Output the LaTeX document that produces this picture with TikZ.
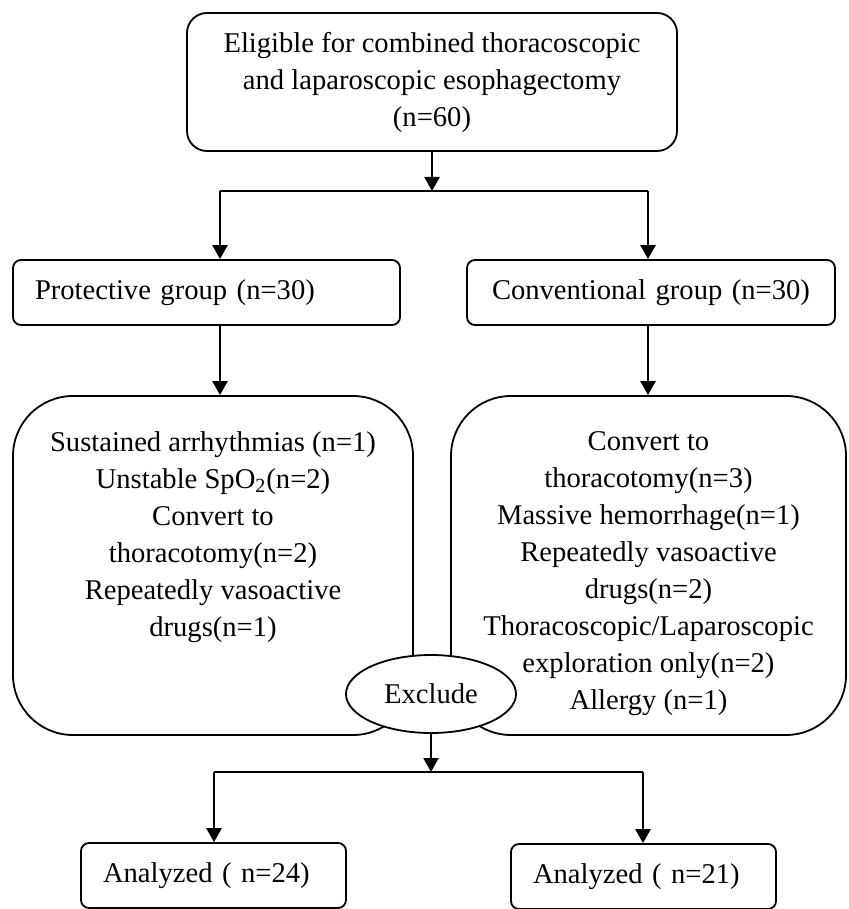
\documentclass[tikz,border=0pt]{standalone}
\usepackage{fontspec}
\setmainfont{Liberation Serif}
\usetikzlibrary{arrows.meta,positioning,shapes.geometric}

\begin{document}
\begin{tikzpicture}[x=0.5pt,y=-0.5pt,
    font=\fontsize{14.3pt}{18.5pt}\selectfont,
    box/.style={draw,line width=0.9pt,rounded corners=4pt,inner sep=0pt,minimum height=32.5pt},
    bigbox/.style={draw,line width=0.9pt,rounded corners=30pt,minimum width=#1,minimum height=169.5pt},
    lines/.style={align=center,inner sep=0pt},
    link/.style={line width=1.3pt},
    arrow/.style={link,-{Triangle[width=7.5pt,length=7pt]}}]
    \useasboundingbox (0,0) rectangle (848,909);
    \node[box,rounded corners=10pt,minimum width=245pt,minimum height=69pt,align=center] (elig) at (432,82)
        {Eligible for combined thoracoscopic\\and laparoscopic esophagectomy\\(n=60)};
    \node[box,text width=171.5pt,inner xsep=11pt,align=left] (prot) at (206.5,292.5) {Protective group (n=30)};
    \node[box,text width=159pt,inner xsep=12.5pt,align=left] (conv) at (651,292.5) {Conventional group (n=30)};
    \node[bigbox=200pt] (exclL) at (213,565.5) {};
    \node[bigbox=197.5pt] (exclR) at (648.5,565.5) {};
    \node[lines,below=18pt of exclL.north] (exclLtxt)
        {Sustained arrhythmias (n=1)\\Unstable SpO\textsubscript{2}(n=2)\\Convert to\\thoracotomy(n=2)\\Repeatedly vasoactive\\drugs(n=1)};
    \node[lines,below=18pt of exclR.north] (exclRtxt)
        {Convert to\\thoracotomy(n=3)\\Massive hemorrhage(n=1)\\Repeatedly vasoactive\\drugs(n=2)\\Thoracoscopic/Laparoscopic\\exploration only(n=2)\\Allergy (n=1)};
    \node[draw,ellipse,fill=white,line width=0.9pt,minimum width=85pt,minimum height=39pt,inner sep=0pt] (excl) at (431,694) {Exclude};
    \node[box,text width=110.5pt,inner xsep=11pt,align=left] (anaL) at (213.5,875.5) {Analyzed ( n=24)};
    \node[box,text width=110.5pt,inner xsep=11pt,align=left] (anaR) at (643.5,876.5) {Analyzed ( n=21)};
    \coordinate (splitA) at (432,191);
    \coordinate (forkL) at (220,191);
    \coordinate (forkR) at (648,191);
    \draw[arrow] (elig) -- (splitA);
    \draw[link] (forkL) -- (forkR);
    \draw[arrow] (forkL) -- (forkL |- prot.north);
    \draw[arrow] (forkR) -- (forkR |- conv.north);
    \draw[arrow] (forkL |- prot.south) -- (forkL |- exclL.north);
    \draw[arrow] (forkR |- conv.south) -- (forkR |- exclR.north);
    \coordinate (splitB) at (431,772);
    \coordinate (forkBL) at (214,772);
    \coordinate (forkBR) at (643,772);
    \draw[arrow,line width=1pt] (excl) -- (splitB);
    \draw[link,line width=1pt] (forkBL) -- (forkBR);
    \draw[arrow] (forkBL) -- (forkBL |- anaL.north);
    \draw[arrow] (forkBR) -- (forkBR |- anaR.north);
\end{tikzpicture}
\end{document}
